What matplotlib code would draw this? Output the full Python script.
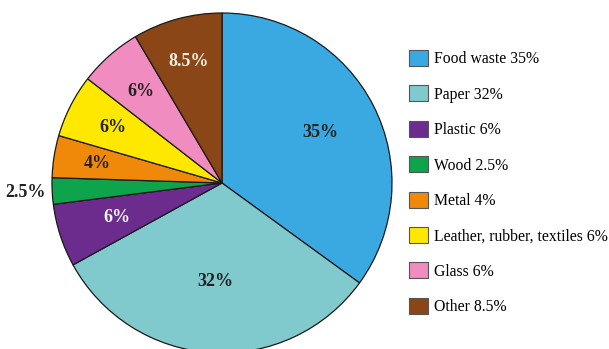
import matplotlib.pyplot as plt
from matplotlib.patches import Patch
import numpy as np

# Municipal solid waste composition
categories = ["Food waste", "Paper", "Plastic", "Wood", "Metal",
              "Leather, rubber, textiles", "Glass", "Other"]
shares = [35, 32, 6, 2.5, 4, 6, 6, 8.5]
colors = ["#3AA9E1", "#80C9CD", "#6B2C8D", "#0EA44B", "#F0890A",
          "#FFE800", "#F08CBF", "#8A4616"]
label_colors = ["#222222", "#222222", "#F4F4F4", "#222222", "#222222",
                "#222222", "#222222", "#F4F0E6"]
# radial position of each percentage label (fraction of radius)
label_radius = [0.65, 0.58, 0.65, 1.16, 0.74, 0.72, 0.72, 0.74]

plt.rcParams["font.family"] = ["Liberation Serif", "DejaVu Serif"]

fig = plt.figure(figsize=(6.09, 3.49), dpi=100)
ax = fig.add_axes([52 / 609, -4 / 349, 340 / 609, 340 / 349])

wedges, _ = ax.pie(shares, colors=colors, startangle=90, counterclock=False,
                   wedgeprops=dict(edgecolor="#1a1a1a", linewidth=0.9))

for w, val, r, c in zip(wedges, shares, label_radius, label_colors):
    mid = np.deg2rad((w.theta1 + w.theta2) / 2)
    txt = f"{val:g}%"
    ax.text(r * np.cos(mid), r * np.sin(mid), txt, ha="center", va="center",
            fontsize=13, fontweight="bold", color=c)

ax.set_xlim(-1, 1)
ax.set_ylim(-1, 1)
ax.set_aspect("equal")
ax.axis("off")

handles = [Patch(facecolor=col, edgecolor="#555555", linewidth=0.8)
           for col in colors]
labels = [f"{cat} {val:g}%" for cat, val in zip(categories, shares)]
fig.legend(handles, labels, loc="upper left", bbox_to_anchor=(409 / 609, 1 - 50 / 349),
           frameon=False, fontsize=11.3, handlelength=1.2, handleheight=1.2,
           handletextpad=0.4, labelspacing=1.15, borderpad=0, borderaxespad=0)

fig.savefig("out.png", dpi=100)
